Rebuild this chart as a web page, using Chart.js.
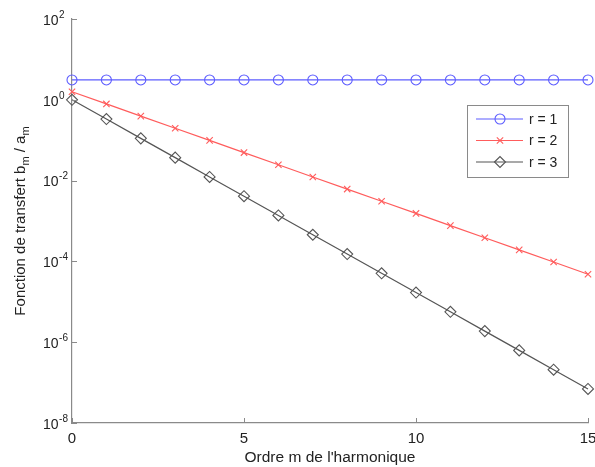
<!DOCTYPE html>
<html>
<head>
<meta charset="utf-8">
<script src="https://cdn.jsdelivr.net/npm/chart.js@4"></script>
<style>
  html, body { margin: 0; padding: 0; background: #fff; }
  #wrap { width: 595px; height: 467px; }
</style>
</head>
<body>
<div id="wrap"><canvas id="chart" width="595" height="467"></canvas></div>
<script>
/* =======================
   DATA
======================= */

const harmonics = [0, 1, 2, 3, 4, 5, 6, 7, 8, 9, 10, 11, 12, 13, 14, 15];

const seriesR1 = [3.1, 3.1, 3.1, 3.1, 3.1, 3.1, 3.1, 3.1, 3.1, 3.1, 3.1, 3.1, 3.1, 3.1, 3.1, 3.1];
const seriesR2 = [1.58, 0.79, 0.395, 0.198, 0.0988, 0.0494, 0.0247, 0.0123, 0.00617, 0.00309,
                  0.00154, 0.00077, 0.000386, 0.000193, 0.0000965, 0.0000482];
const seriesR3 = [1.0, 0.333, 0.111, 0.037, 0.0123, 0.00412, 0.00137, 0.000457, 0.000152, 0.0000508,
                  0.0000169, 0.00000565, 0.00000188, 0.000000627, 0.000000209, 0.0000000697];

const seriesLabels = ["r = 1", "r = 2", "r = 3"];
const yTickExponents = [2, 0, -2, -4, -6, -8];
const xTickValues = [0, 5, 10, 15];

const FONT = '"Liberation Sans", Arial, Helvetica, sans-serif';
const TEXT = "#222";
const AXIS = "#8a8a8a";

/* =======================
   CUSTOM DRAWING
======================= */

const customPlugin = {
  id: "custom",
  afterDraw(chart) {
    const ctx = chart.ctx;
    const xs = chart.scales.x;
    const ys = chart.scales.y;
    const area = chart.chartArea;

    ctx.save();
    ctx.strokeStyle = AXIS;
    ctx.lineWidth = 1;

    // tick marks (inside)
    ys.ticks.forEach(t => {
      const py = Math.round(ys.getPixelForValue(t.value)) + 0.5;
      ctx.beginPath();
      ctx.moveTo(area.left, py);
      ctx.lineTo(area.left + 5, py);
      ctx.stroke();
    });
    xs.ticks.forEach(t => {
      const px = Math.round(xs.getPixelForValue(t.value)) + 0.5;
      ctx.beginPath();
      ctx.moveTo(px, area.bottom);
      ctx.lineTo(px, area.bottom - 5);
      ctx.stroke();
    });

    // y tick labels 10^k
    ctx.fillStyle = TEXT;
    ctx.textAlign = "left";
    ctx.textBaseline = "middle";
    ys.ticks.forEach(t => {
      const py = ys.getPixelForValue(t.value);
      const exp = Math.round(Math.log10(t.value));
      ctx.font = "14px " + FONT;
      ctx.fillText("10", 43, py + 2);
      const w = ctx.measureText("10").width;
      ctx.font = "10px " + FONT;
      ctx.fillText(String(exp), 43 + w + 0.5, py - 4);
    });

    // y axis title with subscripts
    const parts = [
      { t: "Fonction de transfert b", sub: false },
      { t: "m", sub: true },
      { t: " / a", sub: false },
      { t: "m", sub: true }
    ];
    let total = 0;
    parts.forEach(p => {
      ctx.font = (p.sub ? "11px " : "15px ") + FONT;
      total += ctx.measureText(p.t).width;
    });
    ctx.translate(25, (area.top + area.bottom) / 2);
    ctx.rotate(-Math.PI / 2);
    ctx.textBaseline = "alphabetic";
    let cx = -total / 2;
    parts.forEach(p => {
      ctx.font = (p.sub ? "11px " : "15px ") + FONT;
      ctx.fillText(p.t, cx, p.sub ? 4 : 0);
      cx += ctx.measureText(p.t).width;
    });
    ctx.restore();

    // legend box
    ctx.save();
    const bx = 467, by = 105, bw = 101, bh = 72;
    ctx.fillStyle = "#fff";
    ctx.fillRect(bx, by, bw, bh);
    ctx.strokeStyle = AXIS;
    ctx.lineWidth = 1;
    ctx.strokeRect(bx + 0.5, by + 0.5, bw, bh);
    chart.data.datasets.forEach((ds, i) => {
      const ry = 119 + i * 21.5;
      ctx.strokeStyle = ds.borderColor;
      ctx.lineWidth = ds.borderWidth;
      ctx.beginPath();
      ctx.moveTo(476, ry);
      ctx.lineTo(523, ry);
      ctx.stroke();
      ctx.fillStyle = "rgba(0,0,0,0)";
      ctx.lineWidth = ds.pointBorderWidth;
      Chart.helpers.drawPoint(ctx, {
        pointStyle: ds.pointStyle,
        radius: ds.pointRadius,
        rotation: 0,
        borderWidth: ds.pointBorderWidth
      }, 500, ry);
      ctx.fillStyle = TEXT;
      ctx.font = "14px " + FONT;
      ctx.textAlign = "left";
      ctx.textBaseline = "middle";
      ctx.fillText(ds.label, 529, ry + 1);
    });
    ctx.restore();
  }
};

function makeDataset(label, values, color, style, radius) {
  return {
    label,
    data: values,
    borderColor: color,
    backgroundColor: "rgba(0,0,0,0)",
    borderWidth: 1.2,
    pointStyle: style,
    pointRadius: radius,
    pointHoverRadius: radius,
    pointBorderColor: color,
    pointBackgroundColor: "rgba(0,0,0,0)",
    pointBorderWidth: 1.1,
    tension: 0,
    clip: false
  };
}

/* =======================
   CHART
======================= */

new Chart(document.getElementById("chart"), {
  type: "line",
  data: {
    labels: harmonics,
    datasets: [
      makeDataset(seriesLabels[0], seriesR1, "#5c5cff", "circle", 5),
      makeDataset(seriesLabels[1], seriesR2, "#ff5c5c", "crossRot", 4.5),
      makeDataset(seriesLabels[2], seriesR3, "#555555", "rectRot", 5.5)
    ]
  },
  options: {
    responsive: false,
    animation: false,
    events: [],
    layout: { padding: { top: 19, right: 7, left: 0, bottom: 0 } },
    plugins: {
      legend: { display: false },
      tooltip: { enabled: false }
    },
    scales: {
      x: {
        type: "linear",
        min: 0,
        max: 15,
        afterBuildTicks: s => { s.ticks = xTickValues.map(v => ({ value: v })); },
        afterFit: s => { s.height = 44; s.paddingLeft = 0; s.paddingRight = 0; },
        grid: { display: true, drawOnChartArea: false, drawTicks: false, tickLength: 0 },
        border: { display: true, color: AXIS, width: 1.2 },
        ticks: { color: TEXT, font: { size: 15, family: FONT }, padding: 7, maxRotation: 0 },
        title: {
          display: true,
          text: "Ordre m de l'harmonique",
          color: TEXT,
          font: { size: 15.5, family: FONT },
          padding: { top: 0, bottom: 0 }
        }
      },
      y: {
        type: "logarithmic",
        min: 1e-8,
        max: 1e2,
        afterBuildTicks: s => { s.ticks = yTickExponents.map(e => ({ value: Math.pow(10, e) })); },
        afterFit: s => { s.width = 72; },
        grid: { display: true, drawOnChartArea: false, drawTicks: false, tickLength: 0 },
        border: { display: true, color: AXIS, width: 1.2 },
        ticks: { display: false }
      }
    }
  },
  plugins: [customPlugin]
});
</script>
</body>
</html>
